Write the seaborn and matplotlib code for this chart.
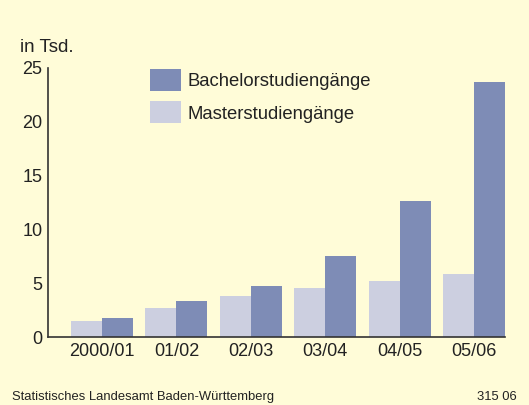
import matplotlib.pyplot as plt
import seaborn as sns
import pandas as pd
from matplotlib.patches import Patch

years = ["2000/01", "01/02", "02/03", "03/04", "04/05", "05/06"]
master = [1.5, 2.7, 3.8, 4.6, 5.2, 5.9]
bachelor = [1.75, 3.35, 4.75, 7.5, 12.6, 23.7]

bg = "#FFFCD8"
col_bachelor = "#7E8CB6"
col_master = "#CCCFE0"

df = pd.DataFrame({
    "Jahr": years * 2,
    "Wert": master + bachelor,
    "Art": ["Masterstudiengänge"] * len(years) + ["Bachelorstudiengänge"] * len(years),
})

sns.set_style("white")
plt.rcParams["font.family"] = ["Liberation Sans", "DejaVu Sans"]

fig = plt.figure(figsize=(5.29, 4.05), dpi=100, facecolor=bg)
ax = fig.add_axes([48 / 529, 68 / 405, (505 - 48) / 529, (337 - 68) / 405])
ax.set_facecolor(bg)

sns.barplot(data=df, x="Jahr", y="Wert", hue="Art",
            hue_order=["Masterstudiengänge", "Bachelorstudiengänge"],
            palette=[col_master, col_bachelor], width=0.833, gap=0,
            saturation=1, linewidth=0, ax=ax, legend=False)

ax.set_xlim(-0.726, 5.417)
ax.set_ylim(0, 25)
ax.set_yticks([0, 5, 10, 15, 20, 25])
ax.set_xlabel("")
ax.set_ylabel("")
for s in ["top", "right"]:
    ax.spines[s].set_visible(False)
for s in ["left", "bottom"]:
    ax.spines[s].set_color("#333333")
    ax.spines[s].set_linewidth(1.2)
ax.tick_params(axis="y", direction="in", length=5, width=1.2, color="#333333",
               labelsize=13, labelcolor="#222222", pad=4)
ax.tick_params(axis="x", length=0, labelsize=13, labelcolor="#222222", pad=4)

fig.text(20 / 529, 1 - 47 / 405, "in Tsd.", fontsize=13.5, color="#222222", va="center")

handles = [Patch(facecolor=col_bachelor, edgecolor="none"),
           Patch(facecolor=col_master, edgecolor="none")]
fig.legend(handles, ["Bachelorstudiengänge", "Masterstudiengänge"],
           loc="upper left", bbox_to_anchor=(150 / 529, 1 - 69 / 405),
           frameon=False, fontsize=13.3, handlelength=1.68, handleheight=1.45,
           handletextpad=0.33, labelspacing=0.57, borderaxespad=0, borderpad=0,
           labelcolor="#222222")

fig.text(12 / 529, 1 - 397 / 405, "Statistisches Landesamt Baden-Württemberg",
         fontsize=9.4, color="#222222", va="center")
fig.text(517 / 529, 1 - 397 / 405, "315 06", fontsize=9.4, color="#222222",
         va="center", ha="right")

fig.savefig("out.png", dpi=100, facecolor=bg)
